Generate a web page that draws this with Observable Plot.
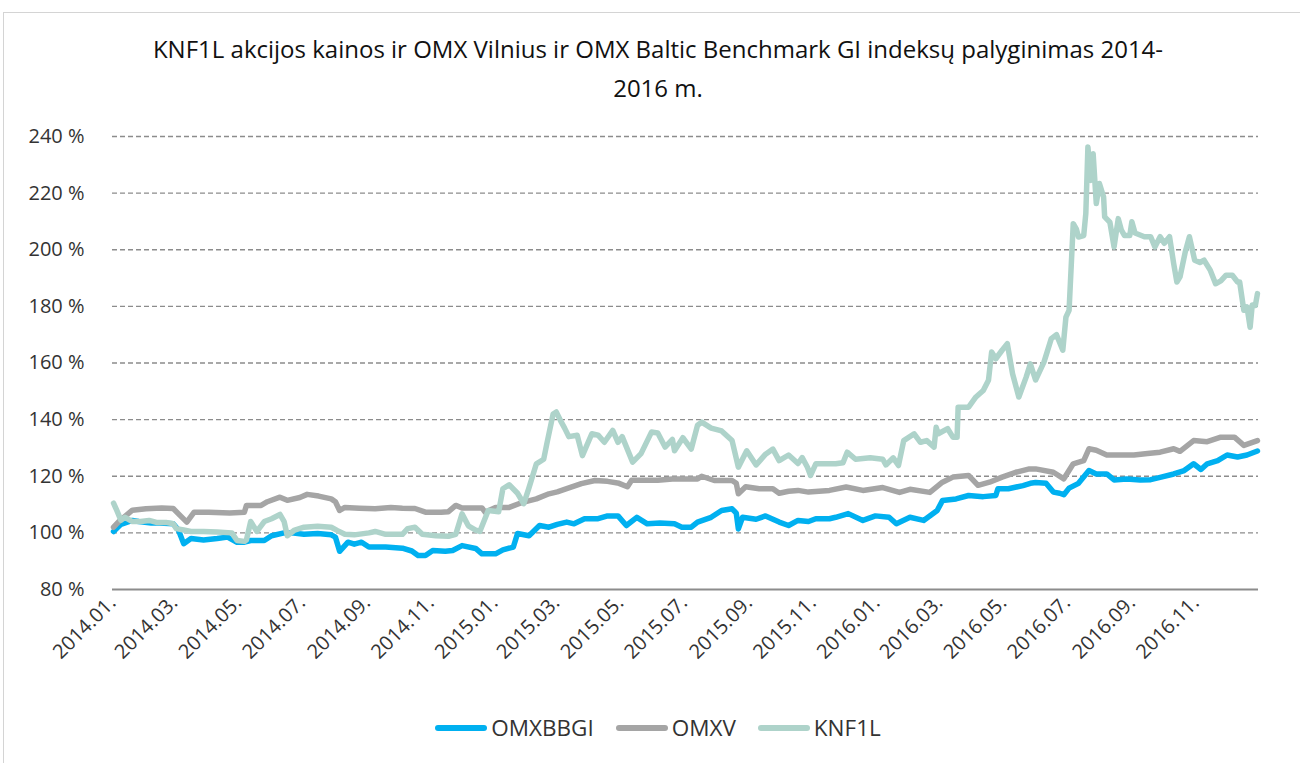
<!DOCTYPE html>
<html>
<head>
<meta charset="utf-8">
<script src="https://cdn.jsdelivr.net/npm/d3@7"></script>
<script src="https://cdn.jsdelivr.net/npm/@observablehq/plot@0.6"></script>
<style>
  html, body { margin: 0; padding: 0; background: #fff; }
  body { width: 1300px; height: 763px; position: relative; overflow: hidden; font-family: "Open Sans", sans-serif; }
  #frame { position: absolute; left: 3px; top: 12px; width: 1400px; height: 900px; border: 1.5px solid #d4d4d4; box-sizing: border-box; }
  #title { position: absolute; left: 58px; width: 1200px; top: 29px; text-align: center; font-size: 24px; line-height: 39px; color: #111; font-weight: 400; }
  #chart { position: absolute; left: 0; top: 110px; }
  #legend { position: absolute; top: 712px; left: 0; width: 1316px; display: flex; justify-content: center; align-items: center; font-size: 22.5px; color: #333; }
  .item { display: flex; align-items: center; margin: 0 11px; }
  .sw { width: 52px; height: 6px; border-radius: 3px; margin-right: 4px; }
</style>
</head>
<body>
<div id="frame"></div>
<div id="title"></div>
<div id="chart"></div>
<div id="legend"></div>
<script>
// ---- Data ----
const titleLines = ["KNF1L akcijos kainos ir OMX Vilnius ir OMX Baltic Benchmark GI indeksų palyginimas 2014-", "2016 m."];
const seriesNames = ["OMXBBGI", "OMXV", "KNF1L"];
const seriesColors = ["#00b0f0", "#a5a5a5", "#aed3ca"];
const yTicks = [80, 100, 120, 140, 160, 180, 200, 220, 240];
const xTicks = ["2014-01-01","2014-03-01","2014-05-01","2014-07-01","2014-09-01","2014-11-01",
  "2015-01-01","2015-03-01","2015-05-01","2015-07-01","2015-09-01","2015-11-01",
  "2016-01-01","2016-03-01","2016-05-01","2016-07-01","2016-09-01","2016-11-01"];

const omxbbgi = [
["2014-01-02",100.5],["2014-01-09",103],["2014-01-20",104.4],["2014-01-26",104],["2014-02-07",103.5],["2014-02-15",103.5],
["2014-02-28",103.2],["2014-03-05",101],["2014-03-10",96.2],["2014-03-17",98],["2014-03-29",97.5],["2014-04-11",98],
["2014-04-21",98.5],["2014-04-30",96.7],["2014-05-07",96.7],["2014-05-13",97.3],["2014-05-26",97.3],["2014-06-02",99],
["2014-06-14",100],["2014-06-21",100],["2014-07-03",99.5],["2014-07-16",99.8],["2014-07-29",99.3],["2014-08-02",98.5],
["2014-08-06",93.5],["2014-08-14",96.7],["2014-08-20",96],["2014-08-27",96.7],["2014-09-03",95],["2014-09-19",95],
["2014-10-05",94.6],["2014-10-14",93.6],["2014-10-20",92],["2014-10-27",92],["2014-11-03",93.8],["2014-11-15",93.5],
["2014-11-22",93.8],["2014-12-01",95.5],["2014-12-14",94.5],["2014-12-20",92.6],["2015-01-02",92.6],["2015-01-09",94],
["2015-01-19",95],["2015-01-23",99.8],["2015-02-03",99],["2015-02-13",102.6],["2015-02-22",102],["2015-03-02",103],
["2015-03-11",103.8],["2015-03-18",103.2],["2015-03-28",105],["2015-04-10",105],["2015-04-19",106],["2015-04-29",106],
["2015-05-07",102.6],["2015-05-17",105.5],["2015-05-27",103.2],["2015-06-08",103.5],["2015-06-22",103.2],["2015-06-29",102],
["2015-07-08",102],["2015-07-14",103.8],["2015-07-27",105.5],["2015-08-06",107.9],["2015-08-16",108.5],["2015-08-20",107],
["2015-08-22",101.4],["2015-08-26",105.5],["2015-09-08",104.8],["2015-09-17",106],["2015-09-30",103.8],["2015-10-09",102.6],
["2015-10-18",104.4],["2015-10-28",104],["2015-11-04",105],["2015-11-17",105],["2015-11-23",105.5],["2015-12-05",106.8],
["2015-12-19",104.4],["2015-12-31",106],["2016-01-13",105.5],["2016-01-20",103.2],["2016-02-02",105.5],["2016-02-15",104.4],
["2016-02-28",107.9],["2016-03-04",111.4],["2016-03-17",112],["2016-03-29",113.2],["2016-04-12",112.8],["2016-04-24",113.2],
["2016-04-26",115.6],["2016-05-06",115.6],["2016-05-20",116.7],["2016-05-27",117.5],["2016-06-01",117.8],["2016-06-11",117.5],
["2016-06-18",114.4],["2016-06-24",114],["2016-06-28",113.5],["2016-07-03",115.8],["2016-07-12",117.5],["2016-07-22",122],
["2016-07-29",120.8],["2016-08-08",120.8],["2016-08-15",118.7],["2016-08-27",119],["2016-09-09",118.7],["2016-09-19",118.8],
["2016-09-28",119.6],["2016-10-11",120.8],["2016-10-21",122],["2016-10-30",124.4],["2016-11-06",122.4],["2016-11-12",124.4],
["2016-11-22",125.5],["2016-12-01",127.5],["2016-12-11",126.8],["2016-12-20",127.5],["2016-12-30",128.9]
];

const omxv = [
["2014-01-02",102],["2014-01-07",104],["2014-01-20",108],["2014-02-02",108.5],["2014-02-17",108.8],["2014-02-28",108.6],
["2014-03-07",106],["2014-03-13",103.8],["2014-03-20",107.3],["2014-04-03",107.3],["2014-04-23",107],["2014-05-07",107.3],
["2014-05-09",109.7],["2014-05-23",109.7],["2014-05-29",111],["2014-06-10",112.6],["2014-06-17",111.5],["2014-06-29",112.5],
["2014-07-06",113.6],["2014-07-17",113],["2014-07-29",112],["2014-08-02",111],["2014-08-06",107.9],["2014-08-11",109],
["2014-08-25",108.7],["2014-09-09",108.5],["2014-09-24",109],["2014-10-05",108.7],["2014-10-17",108.6],["2014-10-27",107.3],
["2014-11-11",107.3],["2014-11-18",107.5],["2014-11-25",109.7],["2014-12-01",108.8],["2014-12-14",108.8],["2014-12-20",108.8],
["2014-12-23",107.3],["2015-01-02",109],["2015-01-15",109],["2015-01-28",110.8],["2015-02-10",112],["2015-02-22",113.8],
["2015-03-02",114.5],["2015-03-11",115.6],["2015-03-25",117.4],["2015-04-07",118.5],["2015-04-19",118.2],["2015-04-30",117.5],
["2015-05-08",116.3],["2015-05-12",118.6],["2015-05-24",118.6],["2015-06-06",118.6],["2015-06-20",119],["2015-07-02",119],
["2015-07-14",119],["2015-07-18",120],["2015-07-30",118.5],["2015-08-09",118.5],["2015-08-16",118.5],["2015-08-20",117.5],
["2015-08-22",113.8],["2015-08-29",116.3],["2015-09-11",115.6],["2015-09-24",115.6],["2015-09-30",114],["2015-10-09",114.7],
["2015-10-18",115],["2015-10-28",114.4],["2015-11-17",115],["2015-12-03",116.2],["2015-12-19",115],["2016-01-07",116],
["2016-01-23",114.3],["2016-02-02",115.4],["2016-02-21",114.3],["2016-03-04",117.9],["2016-03-14",119.7],["2016-03-29",120.3],
["2016-04-07",116.8],["2016-04-18",117.9],["2016-04-30",119.7],["2016-05-13",121.4],["2016-05-26",122.6],["2016-06-01",122.6],
["2016-06-18",121.4],["2016-06-28",119.1],["2016-07-07",124.4],["2016-07-17",125.5],["2016-07-22",129.7],["2016-07-29",129.2],
["2016-08-08",127.5],["2016-08-17",127.5],["2016-09-03",127.5],["2016-09-16",128],["2016-09-28",128.5],["2016-10-11",129.7],
["2016-10-17",128.8],["2016-10-30",132.6],["2016-11-12",132.2],["2016-11-25",133.8],["2016-12-08",133.8],["2016-12-17",130.9],
["2016-12-30",132.6]
];

const knf1l = [
["2014-01-02",110.5],["2014-01-05",108],["2014-01-09",104.5],["2014-01-13",105.5],["2014-01-20",104],["2014-01-28",104],
["2014-02-05",104.4],["2014-02-12",103.7],["2014-02-21",103.7],["2014-02-28",103.2],["2014-03-03",101.5],["2014-03-10",101],
["2014-03-17",100.5],["2014-03-29",100.5],["2014-04-11",100.3],["2014-04-25",100],["2014-04-30",97.3],["2014-05-07",97],
["2014-05-09",97.5],["2014-05-13",104],["2014-05-19",100.5],["2014-05-26",104],["2014-06-02",105],["2014-06-10",106.5],
["2014-06-14",104],["2014-06-17",99],["2014-06-24",101],["2014-07-03",102],["2014-07-16",102.3],["2014-07-29",102],
["2014-08-04",100.8],["2014-08-11",99.5],["2014-08-20",99.3],["2014-09-03",100],["2014-09-09",100.5],["2014-09-19",99.5],
["2014-10-05",99.5],["2014-10-10",101.5],["2014-10-17",102],["2014-10-24",99.5],["2014-11-06",99],["2014-11-18",98.8],
["2014-11-25",99.5],["2014-12-01",106.7],["2014-12-07",102.5],["2014-12-14",101],["2014-12-18",100.5],["2014-12-26",107.9],
["2015-01-05",107.5],["2015-01-09",115.6],["2015-01-15",117],["2015-01-23",114],["2015-01-29",110.3],["2015-02-03",116],
["2015-02-10",124.4],["2015-02-17",126],["2015-02-20",131.5],["2015-02-26",142],["2015-03-01",142.7],["2015-03-06",139],
["2015-03-09",137],["2015-03-13",134],["2015-03-21",134.5],["2015-03-26",127.3],["2015-04-04",135],["2015-04-10",134.5],
["2015-04-16",132],["2015-04-24",136.2],["2015-04-29",132],["2015-05-03",134],["2015-05-13",125],["2015-05-21",128],
["2015-05-31",135.6],["2015-06-06",135.3],["2015-06-13",130.3],["2015-06-20",133],["2015-06-22",129],["2015-06-30",133.6],
["2015-07-08",129.6],["2015-07-14",138],["2015-07-18",139.1],["2015-07-27",137],["2015-08-06",136],["2015-08-16",132.6],
["2015-08-22",123.2],["2015-08-30",129],["2015-09-08",124],["2015-09-17",127.8],["2015-09-24",129.6],["2015-09-30",125.5],
["2015-10-09",127.5],["2015-10-18",124.5],["2015-10-22",126.6],["2015-10-27",123.2],["2015-10-30",120.3],["2015-11-04",124.4],
["2015-11-23",124.4],["2015-11-30",124.8],["2015-12-04",128.5],["2015-12-12",126],["2015-12-26",126.5],["2016-01-07",126],
["2016-01-10",124],["2016-01-17",126.5],["2016-01-22",123.8],["2016-01-27",132.6],["2016-02-06",135],["2016-02-12",132],
["2016-02-18",132.6],["2016-02-25",130.3],["2016-02-27",137.3],["2016-02-29",135],["2016-03-09",136.8],["2016-03-14",133.8],
["2016-03-18",133.8],["2016-03-19",144.4],["2016-03-29",144.4],["2016-04-05",148],["2016-04-12",150.3],["2016-04-17",153.9],
["2016-04-20",163.9],["2016-04-24",161.5],["2016-04-30",164.5],["2016-05-05",166.8],["2016-05-10",156.2],["2016-05-16",148],
["2016-05-23",155],["2016-05-27",159.7],["2016-06-01",154],["2016-06-09",160.3],["2016-06-16",168.6],["2016-06-21",170],
["2016-06-27",164.5],["2016-06-30",176.2],["2016-07-03",178.6],["2016-07-07",209.2],["2016-07-10",207.3],["2016-07-12",204.5],
["2016-07-17",205],["2016-07-19",212.8],["2016-07-21",236.3],["2016-07-24",224.5],["2016-07-26",233.9],["2016-07-29",216.3],
["2016-08-01",223.4],["2016-08-05",218.6],["2016-08-06",211.6],["2016-08-11",209.7],["2016-08-15",201],["2016-08-19",211],
["2016-08-22",206.9],["2016-08-25",205],["2016-08-30",205],["2016-09-01",209.9],["2016-09-04",205.9],["2016-09-13",204.6],
["2016-09-19",204.6],["2016-09-23",201],["2016-09-28",204.6],["2016-10-02",202.3],["2016-10-07",204.6],["2016-10-11",195],
["2016-10-14",188.6],["2016-10-17",190.4],["2016-10-22",199.2],["2016-10-26",204.6],["2016-10-31",196.3],["2016-11-05",195.5],
["2016-11-09",196.3],["2016-11-15",192.7],["2016-11-20",188],["2016-11-25",189],["2016-11-30",191],["2016-12-06",191],
["2016-12-11",188.6],["2016-12-13",188.6],["2016-12-17",178.6],["2016-12-20",179.8],["2016-12-23",172.6],["2016-12-25",180.5],
["2016-12-28",180.3],["2016-12-30",184.5]
];

// ---- Build ----
const parse = d3.utcParse("%Y-%m-%d");
const toRows = (arr, name) => arr.map(([d, v]) => ({date: parse(d), value: v, series: name}));
const seriesData = [omxbbgi, omxv, knf1l].map((a, i) => toRows(a, seriesNames[i]));

document.getElementById("title").innerHTML = titleLines.join("<br>");

const chart = Plot.plot({
  width: 1300,
  height: 590,
  marginLeft: 112,
  marginRight: 42,
  marginTop: 26,
  marginBottom: 111,
  style: {fontFamily: "'Open Sans', sans-serif", fontSize: "20px", color: "#333", background: "transparent", overflow: "visible"},
  x: {type: "utc", domain: [parse("2014-01-01"), parse("2016-12-31")], ticks: xTicks.map(parse),
      tickFormat: d3.utcFormat("%Y.%m."), tickRotate: -45, tickSize: 0, tickPadding: 10, label: null},
  y: {domain: [80, 240], ticks: yTicks, tickFormat: d => d + " %", tickSize: 0, tickPadding: 28, label: null},
  marks: [
    Plot.gridY(yTicks.filter(d => d > 80), {stroke: "#8c8c8c", strokeOpacity: 1, strokeWidth: 1.4, strokeDasharray: "5,3"}),
    Plot.ruleY([80], {stroke: "#8c8c8c", strokeWidth: 2}),
    ...seriesData.map((rows, i) => Plot.line(rows, {x: "date", y: "value", stroke: seriesColors[i], strokeWidth: 5.5, strokeLinejoin: "round", strokeLinecap: "round"}))
  ]
});
document.getElementById("chart").appendChild(chart);

const legend = document.getElementById("legend");
seriesNames.forEach((n, i) => {
  const it = document.createElement("div"); it.className = "item";
  const sw = document.createElement("div"); sw.className = "sw"; sw.style.background = seriesColors[i];
  const tx = document.createElement("span"); tx.textContent = n;
  it.appendChild(sw); it.appendChild(tx); legend.appendChild(it);
});
</script>
</body>
</html>
